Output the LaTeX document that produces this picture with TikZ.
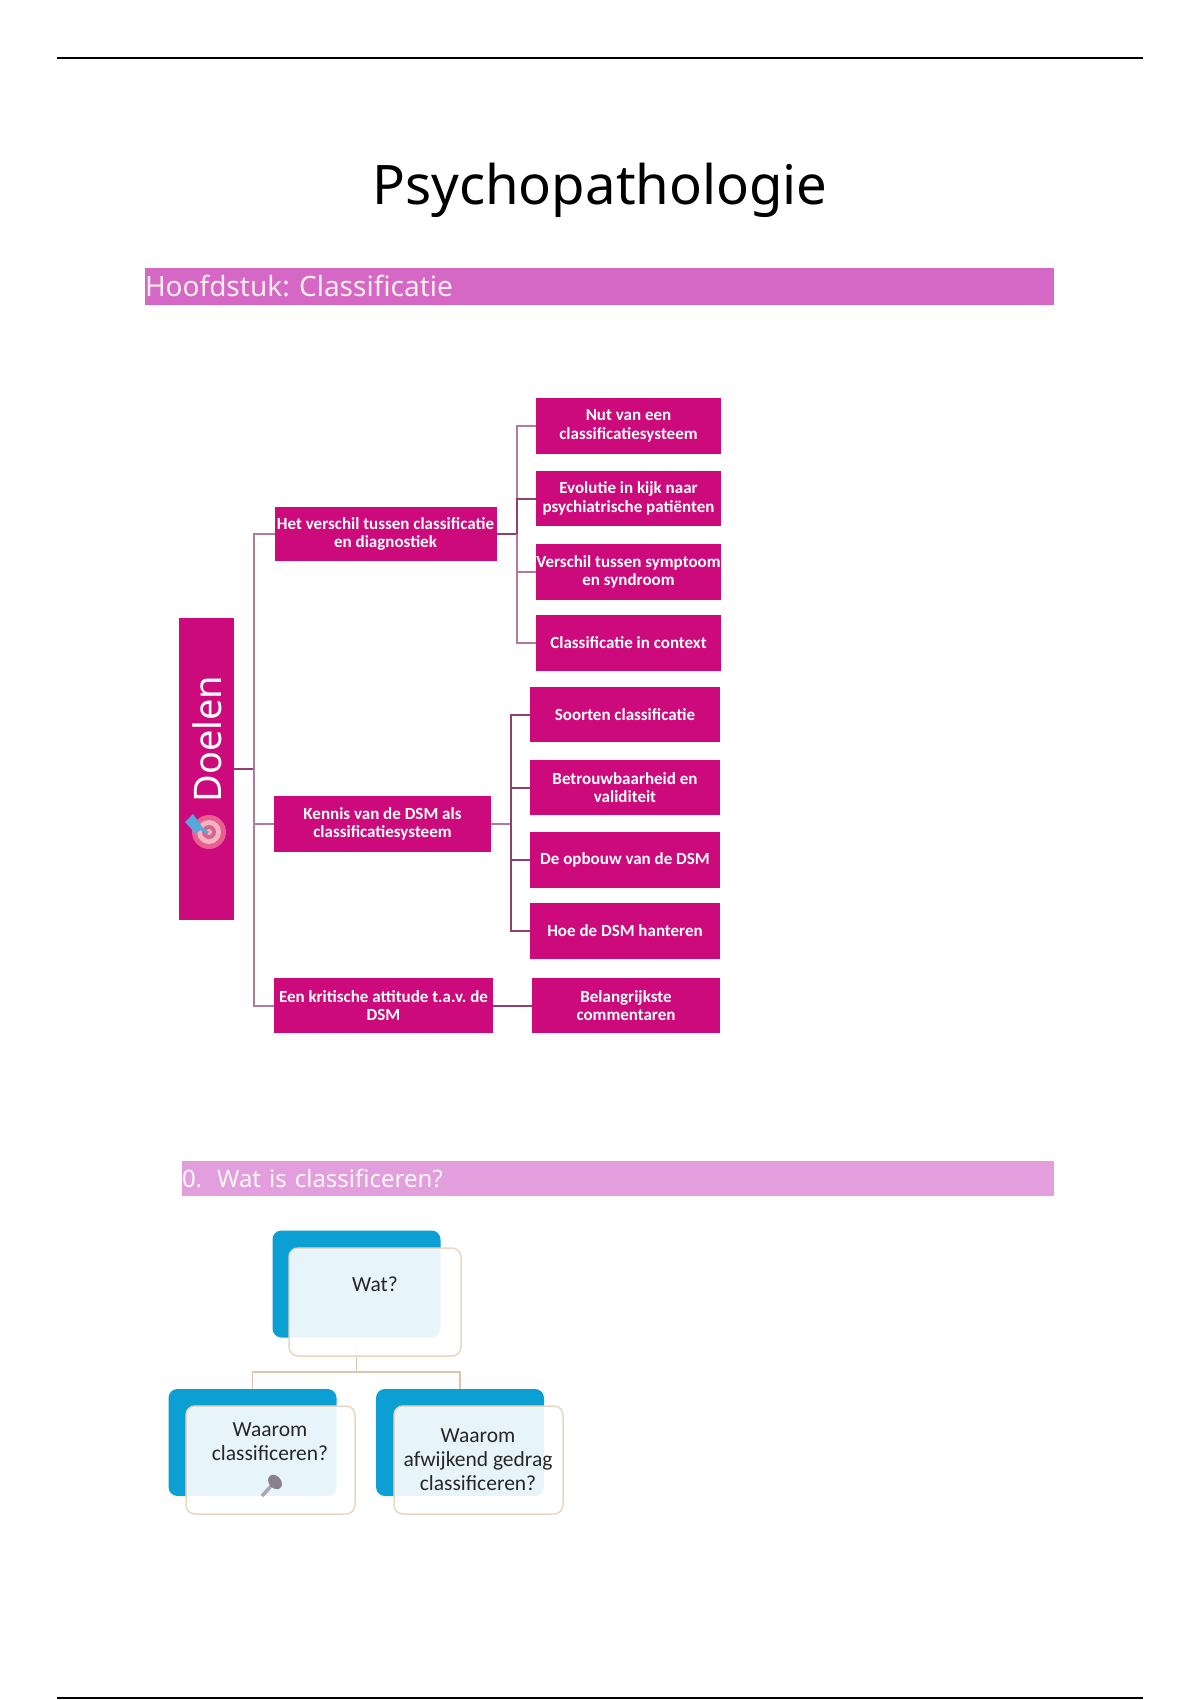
\documentclass[tikz,border=0pt]{standalone}
\usepackage{fontspec}
\setmainfont{Noto Sans}
\newfontfamily\boxfont{Carlito}
\frenchspacing
\definecolor{goalpink}{HTML}{CC0A7C}
\definecolor{bandpink}{HTML}{D568C4}
\definecolor{bandlight}{HTML}{E39EDD}
\definecolor{linkmauve}{HTML}{B27A9C}
\definecolor{linkdark}{HTML}{8F3F70}
\definecolor{cardblue}{HTML}{0B9FD3}
\definecolor{cardedge}{HTML}{E9D6C3}
\definecolor{cardlink}{HTML}{DCC4AE}
\definecolor{ringred}{HTML}{E8608F}
\definecolor{ringpale}{HTML}{F4B4C4}
\definecolor{pinblue}{HTML}{55A8DC}
\definecolor{micgrey}{HTML}{86808F}
\begin{document}
\begin{tikzpicture}[x=1pt, y=-1pt]
    % Common styles
    \tikzstyle{band}=[inner sep=0pt, outer sep=0pt, text width=909pt, align=left, anchor=east, minimum height=37pt]
    \tikzstyle{goal}=[fill=goalpink, text=white, inner sep=0pt, outer sep=0pt, align=center, font=\boxfont\fontsize{17}{18.5}\selectfont\bfseries]
    \tikzstyle{link}=[line width=2pt, linkmauve]
    \tikzstyle{back}=[fill=cardblue, rounded corners=9pt, minimum width=168pt, minimum height=107pt, inner sep=0pt, outer sep=0pt]
    \tikzstyle{front}=[draw=cardedge, line width=1.5pt, fill=white, fill opacity=0.9, rounded corners=9pt, minimum width=170pt, minimum height=108pt, inner sep=0pt, outer sep=0pt]
    \tikzstyle{cardtext}=[align=center, text=black!85, font=\boxfont\fontsize{21.5}{24}\selectfont]

    \useasboundingbox (0, 0) rectangle (1200, 1700);
    \fill[white] (0, 0) rectangle (1200, 1700);

    % --- Page rules and title ---
    \draw[line width=2pt, black] (57, 57.5) -- (1143, 57.5);
    \draw[line width=2pt, black] (57, 1697.5) -- (1143, 1697.5);
    \node[font=\fontsize{54.5}{60}\selectfont] (title) at (600, 190) {Psychopathologie};

    \node[band, fill=bandpink, text=pink!30, font=\fontsize{28}{30}\selectfont] (chapter) at (1054, 286) {Hoofdstuk: Classificatie};
    \node[band, fill=bandlight, text=white!90!pink, text width=872pt, minimum height=35pt, font=\fontsize{24}{28}\selectfont] (section) at (1054, 1178.5) {0.\hspace{15pt}Wat is classificeren?};

    % --- Doelen tree ---
    \node[goal, minimum width=55pt, minimum height=302pt] (doelen) at (206.5, 769) {};
    \node[rotate=90, text=white, font=\fontsize{38}{44}\selectfont] (doelenlabel) at (207, 739) {Doelen};

    % Target with pin
    \fill[ringred] (209, 832) circle (17pt);
    \fill[ringpale] (209, 832) circle (12pt);
    \fill[ringred!80!gray] (209, 832) circle (7pt);
    \fill[ringpale] (209, 832) circle (3pt);
    \draw[line width=3pt, pinblue] (192, 823) -- (208, 833);
    \fill[pinblue] (185, 822) -- (193, 814) -- (203, 828) -- (196, 834) -- cycle;

    \node[goal, minimum width=222pt, minimum height=54pt] (goalA) at (385.5, 534) {Het verschil tussen classificatie\\en diagnostiek};
    \node[goal, minimum width=217pt, minimum height=56pt] (goalB) at (382.5, 824) {Kennis van de DSM als\\classificatiesysteem};
    \node[goal, minimum width=219pt, minimum height=55pt] (goalC) at (383.5, 1005.5) {Een kritische attitude t.a.v. de\\DSM};

    \node[goal, minimum width=185pt, minimum height=56pt] (nut) at (628.5, 426) {Nut van een\\classificatiesysteem};
    \node[goal, minimum width=185pt, minimum height=55pt] (evolutie) at (628.5, 498.5) {Evolutie in kijk naar\\psychiatrische patiënten};
    \node[goal, minimum width=185pt, minimum height=56pt] (verschil) at (628.5, 572) {Verschil tussen symptoom\\en syndroom};
    \node[goal, minimum width=185pt, minimum height=56pt] (context) at (628.5, 643) {Classificatie in context};

    \node[goal, minimum width=190pt, minimum height=55pt] (soorten) at (625, 714.5) {Soorten classificatie};
    \node[goal, minimum width=190pt, minimum height=55pt] (betrouw) at (625, 787.5) {Betrouwbaarheid en\\validiteit};
    \node[goal, minimum width=190pt, minimum height=56pt] (opbouw) at (625, 860) {De opbouw van de DSM};
    \node[goal, minimum width=190pt, minimum height=56pt] (hanteren) at (625, 931) {Hoe de DSM hanteren};
    \node[goal, minimum width=188pt, minimum height=55pt] (commentaar) at (626, 1005.5) {Belangrijkste\\commentaren};

    % Connectors
    \coordinate (trunk) at (254, 769);
    \coordinate (trunkA) at (517, 534);
    \coordinate (trunkB) at (511, 824);
    \draw[link, linkdark] (doelen.east) -- (trunk);
    \draw[link] (goalA.west) -| (trunk);
    \draw[link] (goalB.west) -| (trunk);
    \draw[link] (goalC.west) -| (trunk);
    \draw[link, linkdark] (goalA.east) -- (trunkA);
    \draw[link] (nut.west) -| (trunkA);
    \draw[link, linkdark] (evolutie.west) -| (trunkA);
    \draw[link] (verschil.west) -| (trunkA);
    \draw[link] (context.west) -| (trunkA);
    \draw[link] (goalB.east) -- (trunkB);
    \draw[link, linkdark] (soorten.west) -| (trunkB);
    \draw[link, linkdark] (betrouw.west) -| (trunkB);
    \draw[link, linkdark] (opbouw.west) -| (trunkB);
    \draw[link, linkdark] (hanteren.west) -| (trunkB);
    \draw[link, linkdark] (goalC.east) -- (commentaar.west);

    % --- Wat is classificeren cards ---
    \node[back] (watback) at (356.5, 1284) {};
    \node[back] (waaromback) at (252.5, 1442.5) {};
    \node[back] (afwijkback) at (460, 1442.5) {};

    \coordinate (split) at (356.5, 1372);
    \draw[line width=1.5pt, cardlink] (watback.south) -- (split);
    \draw[line width=1.5pt, cardlink] (split) -| (waaromback.north);
    \draw[line width=1.5pt, cardlink] (split) -| (afwijkback.north);

    \node[front, minimum width=172pt] (watfront) at (375, 1302) {};
    \node[front, minimum width=169pt] (waaromfront) at (270.5, 1460) {};
    \node[front, minimum width=169pt] (afwijkfront) at (478.5, 1460) {};

    \node[cardtext] (wat) at (375, 1284) {Wat?};
    \node[cardtext] (waarom) at (270, 1442) {Waarom\\classificeren?};
    \node[cardtext] (afwijk) at (478, 1460) {Waarom\\afwijkend gedrag\\classificeren?};

    % Microphone
    \draw[line width=3.5pt, micgrey!70!white] (262, 1496) -- (272, 1485);
    \fill[micgrey, rotate around={-50:(275, 1482)}] (275, 1482) ellipse (8pt and 6pt);
\end{tikzpicture}
\end{document}
